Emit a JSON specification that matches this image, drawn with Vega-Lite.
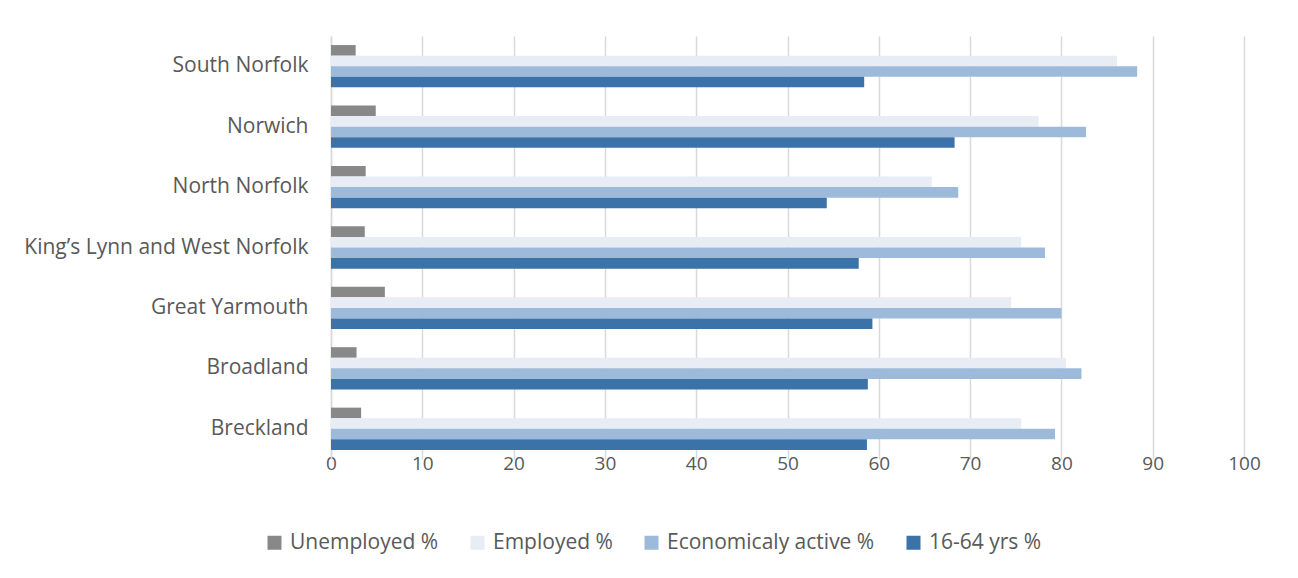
{
  "$schema": "https://vega.github.io/schema/vega-lite/v6.json",
  "width": 913,
  "height": 423,
  "autosize": "none",
  "padding": {"left": 331, "top": 36, "right": 54, "bottom": 119},
  "background": "#ffffff",
  "data": {
    "values": [
      {"district": "South Norfolk", "measure": "Unemployed %", "value": 2.7},
      {"district": "South Norfolk", "measure": "Employed %", "value": 86.1},
      {"district": "South Norfolk", "measure": "Economicaly active %", "value": 88.3},
      {"district": "South Norfolk", "measure": "16-64 yrs %", "value": 58.4},
      {"district": "Norwich", "measure": "Unemployed %", "value": 4.9},
      {"district": "Norwich", "measure": "Employed %", "value": 77.5},
      {"district": "Norwich", "measure": "Economicaly active %", "value": 82.7},
      {"district": "Norwich", "measure": "16-64 yrs %", "value": 68.3},
      {"district": "North Norfolk", "measure": "Unemployed %", "value": 3.8},
      {"district": "North Norfolk", "measure": "Employed %", "value": 65.8},
      {"district": "North Norfolk", "measure": "Economicaly active %", "value": 68.7},
      {"district": "North Norfolk", "measure": "16-64 yrs %", "value": 54.3},
      {"district": "King’s Lynn and West Norfolk", "measure": "Unemployed %", "value": 3.7},
      {"district": "King’s Lynn and West Norfolk", "measure": "Employed %", "value": 75.6},
      {"district": "King’s Lynn and West Norfolk", "measure": "Economicaly active %", "value": 78.2},
      {"district": "King’s Lynn and West Norfolk", "measure": "16-64 yrs %", "value": 57.8},
      {"district": "Great Yarmouth", "measure": "Unemployed %", "value": 5.9},
      {"district": "Great Yarmouth", "measure": "Employed %", "value": 74.5},
      {"district": "Great Yarmouth", "measure": "Economicaly active %", "value": 80.0},
      {"district": "Great Yarmouth", "measure": "16-64 yrs %", "value": 59.3},
      {"district": "Broadland", "measure": "Unemployed %", "value": 2.8},
      {"district": "Broadland", "measure": "Employed %", "value": 80.5},
      {"district": "Broadland", "measure": "Economicaly active %", "value": 82.2},
      {"district": "Broadland", "measure": "16-64 yrs %", "value": 58.8},
      {"district": "Breckland", "measure": "Unemployed %", "value": 3.3},
      {"district": "Breckland", "measure": "Employed %", "value": 75.6},
      {"district": "Breckland", "measure": "Economicaly active %", "value": 79.3},
      {"district": "Breckland", "measure": "16-64 yrs %", "value": 58.7}
    ]
  },
  "mark": {"type": "bar"},
  "encoding": {
    "y": {
      "field": "district",
      "type": "nominal",
      "sort": ["South Norfolk", "Norwich", "North Norfolk", "King’s Lynn and West Norfolk", "Great Yarmouth", "Broadland", "Breckland"],
      "scale": {"paddingInner": 0.3, "paddingOuter": 0.15},
      "axis": {
        "title": null,
        "ticks": false,
        "domain": true,
        "domainColor": "#d9d9d9",
        "domainWidth": 1.5,
        "labelPadding": 23,
        "labelFontSize": 21,
        "labelLimit": 400,
        "labelColor": "#595959",
        "labelFont": "Open Sans"
      }
    },
    "yOffset": {
      "field": "measure",
      "type": "nominal",
      "sort": ["Unemployed %", "Employed %", "Economicaly active %", "16-64 yrs %"],
      "scale": {"paddingInner": 0, "paddingOuter": 0}
    },
    "x": {
      "field": "value",
      "type": "quantitative",
      "scale": {"domain": [0, 100], "nice": false},
      "axis": {
        "title": null,
        "values": [0, 10, 20, 30, 40, 50, 60, 70, 80, 90, 100],
        "labelOverlap": false,
        "labelFlush": false,
        "ticks": false,
        "domain": false,
        "grid": true,
        "gridColor": "#d9d9d9",
        "gridWidth": 1.5,
        "labelPadding": -5,
        "labelFontSize": 19,
        "labelColor": "#595959",
        "labelFont": "Open Sans"
      }
    },
    "color": {
      "field": "measure",
      "type": "nominal",
      "sort": ["Unemployed %", "Employed %", "Economicaly active %", "16-64 yrs %"],
      "scale": {
        "domain": ["Unemployed %", "Employed %", "Economicaly active %", "16-64 yrs %"],
        "range": ["#888888", "#e7ecf5", "#9dbadb", "#3b72a8"]
      },
      "legend": {
        "title": null,
        "orient": "none",
        "direction": "horizontal",
        "legendX": -67,
        "legendY": 496,
        "symbolType": "square",
        "symbolSize": 196,
        "symbolStrokeWidth": 0,
        "labelFontSize": 21,
        "labelLimit": 400,
        "labelColor": "#595959",
        "labelFont": "Open Sans",
        "columnPadding": 28,
        "labelOffset": 5
      }
    }
  },
  "config": {
    "view": {"stroke": null}
  }
}
